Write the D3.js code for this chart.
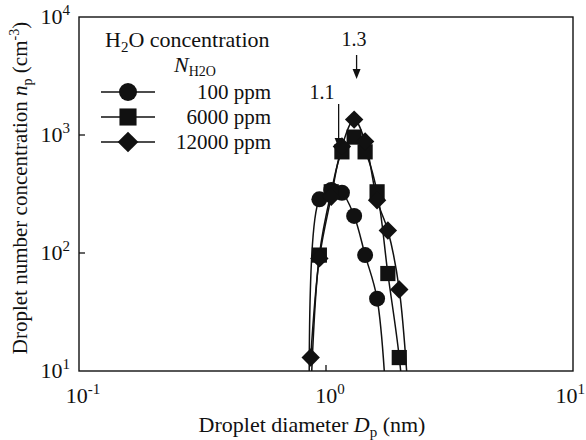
<!DOCTYPE html>
<html>
<head>
<meta charset="utf-8">
<script src="https://cdn.jsdelivr.net/npm/d3@7"></script>
<style>
  body { margin: 0; background: #fff; }
  svg text { font-family: "Liberation Serif", "Times New Roman", serif; fill: #111; }
</style>
</head>
<body>
<div id="container"></div>
<script>
// droplet diameter (nm) and number concentration (cm^-3); points below 10 run off the axis
const x100 = [0.86, 0.94, 1.05, 1.16, 1.30, 1.44, 1.61, 1.78];
const y100 = [2, 285, 342, 324, 206, 96, 41, 3];
const x6000 = [0.867, 0.94, 1.05, 1.16, 1.30, 1.44, 1.61, 1.78, 1.98, 2.2];
const y6000 = [6, 96, 330, 720, 960, 720, 330, 67, 13, 1];
const x12000 = [0.867, 0.94, 1.05, 1.16, 1.30, 1.44, 1.61, 1.78, 1.98, 2.2];
const y12000 = [13, 90, 300, 800, 1350, 880, 280, 155, 49, 3];
const seriesNames = ["100 ppm", "6000 ppm", "12000 ppm"];
const seriesShapes = ["circle", "square", "diamond"];
const xTicks = [0.1, 1, 10];
const yTicks = [10, 100, 1000, 10000];

var width = 586, height = 440;
var margin = {left: 79, right: 13, top: 17, bottom: 69};

const x = d3.scaleLog().domain([0.1, 10]).range([margin.left, width - margin.right]);
const y = d3.scaleLog().domain([10, 10000]).range([height - margin.bottom, margin.top]);

const svg = d3.select("#container").append("svg")
    .attr("width", width)
    .attr("height", height);

svg.append("clipPath").attr("id", "plot")
    .append("rect")
    .attr("x", margin.left).attr("y", margin.top)
    .attr("width", x(10) - x(0.1)).attr("height", y(10) - y(10000));

// frame
svg.append("rect")
    .attr("x", margin.left).attr("y", margin.top)
    .attr("width", x(10) - x(0.1)).attr("height", y(10) - y(10000))
    .attr("fill", "none").attr("stroke", "#111").attr("stroke-width", 1.4);

// inward ticks
svg.append("g").selectAll("line").data(yTicks.slice(1, 3)).join("line")
    .attr("x1", margin.left).attr("x2", margin.left + 6)
    .attr("y1", d => y(d)).attr("y2", d => y(d))
    .attr("stroke", "#111").attr("stroke-width", 1.3);
svg.append("g").selectAll("line").data([1]).join("line")
    .attr("x1", d => x(d)).attr("x2", d => x(d))
    .attr("y1", y(10)).attr("y2", y(10) - 6)
    .attr("stroke", "#111").attr("stroke-width", 1.3);

function powLabel(sel, exp) {
    sel.append("tspan").text("10");
    sel.append("tspan").attr("dy", -9).attr("font-size", 15).text(exp);
}

svg.append("g").selectAll("text").data(yTicks).join("text")
    .attr("x", margin.left - 9)
    .attr("y", d => y(d) + 7)
    .attr("text-anchor", "end")
    .attr("font-size", 22)
    .each(function (d) { powLabel(d3.select(this), Math.round(Math.log10(d))); });

svg.append("g").selectAll("text").data(xTicks).join("text")
    .attr("x", d => d === 10 ? width - 1 : x(d) + 4)
    .attr("y", y(10) + 32)
    .attr("text-anchor", d => d === 10 ? "end" : "middle")
    .attr("font-size", 22)
    .each(function (d) { powLabel(d3.select(this), Math.round(Math.log10(d))); });

// axis titles
const xt = svg.append("text")
    .attr("x", 312).attr("y", 432)
    .attr("text-anchor", "middle").attr("font-size", 22);
xt.append("tspan").text("Droplet diameter ");
xt.append("tspan").attr("font-style", "italic").text("D");
xt.append("tspan").attr("dy", 5).attr("font-size", 15).text("p");
xt.append("tspan").attr("dy", -5).text(" (nm)");

const yt = svg.append("text")
    .attr("transform", "translate(27," + ((y(10) + y(10000)) / 2 - 6) + ") rotate(-90)")
    .attr("text-anchor", "middle").attr("font-size", 21);
yt.append("tspan").text("Droplet number concentration ");
yt.append("tspan").attr("font-style", "italic").text("n");
yt.append("tspan").attr("dy", 5).attr("font-size", 14).text("p");
yt.append("tspan").attr("dy", -5).text(" (cm");
yt.append("tspan").attr("dy", -8).attr("font-size", 14).text("-3");
yt.append("tspan").attr("dy", 8).text(")");

// curves and markers
const series = [
    {xs: x100, ys: y100},
    {xs: x6000, ys: y6000},
    {xs: x12000, ys: y12000}
].map((s, i) => ({
    name: seriesNames[i],
    shape: seriesShapes[i],
    pts: s.xs.map((v, j) => ({d: v, n: s.ys[j]}))
}));

const line = d3.line()
    .x(p => x(p.d))
    .y(p => y(p.n))
    .curve(d3.curveCatmullRom);

const plot = svg.append("g").attr("clip-path", "url(#plot)");

plot.selectAll("path.curve").data(series).join("path")
    .attr("class", "curve")
    .attr("d", s => line(s.pts))
    .attr("fill", "none")
    .attr("stroke", "#111")
    .attr("stroke-width", 1.5);

function marker(shape, size) {
    if (shape === "circle") return d3.symbol(d3.symbolCircle, Math.PI * size * size)();
    if (shape === "square") return d3.symbol(d3.symbolSquare, (size * 1.9) * (size * 1.9))();
    // diamond: rotated square
    var h = size * 1.15;
    return "M0," + (-h) + "L" + h + ",0L0," + h + "L" + (-h) + ",0Z";
}

series.forEach(s => {
    plot.append("g").selectAll("path")
        .data(s.pts.filter(p => p.n >= 10))
        .join("path")
        .attr("transform", p => "translate(" + x(p.d) + "," + y(p.n) + ")")
        .attr("d", marker(s.shape, 8))
        .attr("fill", "#111");
});

// legend
const lg = svg.append("g");
const t1 = lg.append("text").attr("x", 105).attr("y", 47).attr("font-size", 22);
t1.append("tspan").text("H");
t1.append("tspan").attr("dy", 5).attr("font-size", 15).text("2");
t1.append("tspan").attr("dy", -5).text("O concentration");

const t2 = lg.append("text").attr("x", 174).attr("y", 72).attr("font-size", 22);
t2.append("tspan").attr("font-style", "italic").text("N");
t2.append("tspan").attr("dy", 4).attr("font-size", 14).text("H2O");

seriesNames.forEach((name, i) => {
    var ly = 92 + i * 25;
    lg.append("line")
        .attr("x1", 101).attr("x2", 155)
        .attr("y1", ly).attr("y2", ly)
        .attr("stroke", "#111").attr("stroke-width", 1.5);
    lg.append("path")
        .attr("transform", "translate(128," + ly + ")")
        .attr("d", marker(seriesShapes[i], 9))
        .attr("fill", "#111");
    lg.append("text")
        .attr("x", 271).attr("y", ly + 7)
        .attr("text-anchor", "end")
        .attr("font-size", 21)
        .text(name);
});

// peak annotations
function annotate(label, dx, tx, ty, y1, y2) {
    svg.append("text").attr("x", tx).attr("y", ty)
        .attr("text-anchor", "middle").attr("font-size", 20).text(label);
    svg.append("line")
        .attr("x1", x(dx)).attr("x2", x(dx))
        .attr("y1", y1).attr("y2", y2 - 8)
        .attr("stroke", "#111").attr("stroke-width", 1.3);
    svg.append("path")
        .attr("d", "M" + (x(dx) - 4) + "," + (y2 - 10) + "L" + (x(dx) + 4) + "," + (y2 - 10) + "L" + x(dx) + "," + y2 + "Z")
        .attr("fill", "#111");
}
annotate("1.3", 1.33, 354, 46, 55, 79);
annotate("1.1", 1.125, 322, 99, 104, 148);
</script>
</body>
</html>
